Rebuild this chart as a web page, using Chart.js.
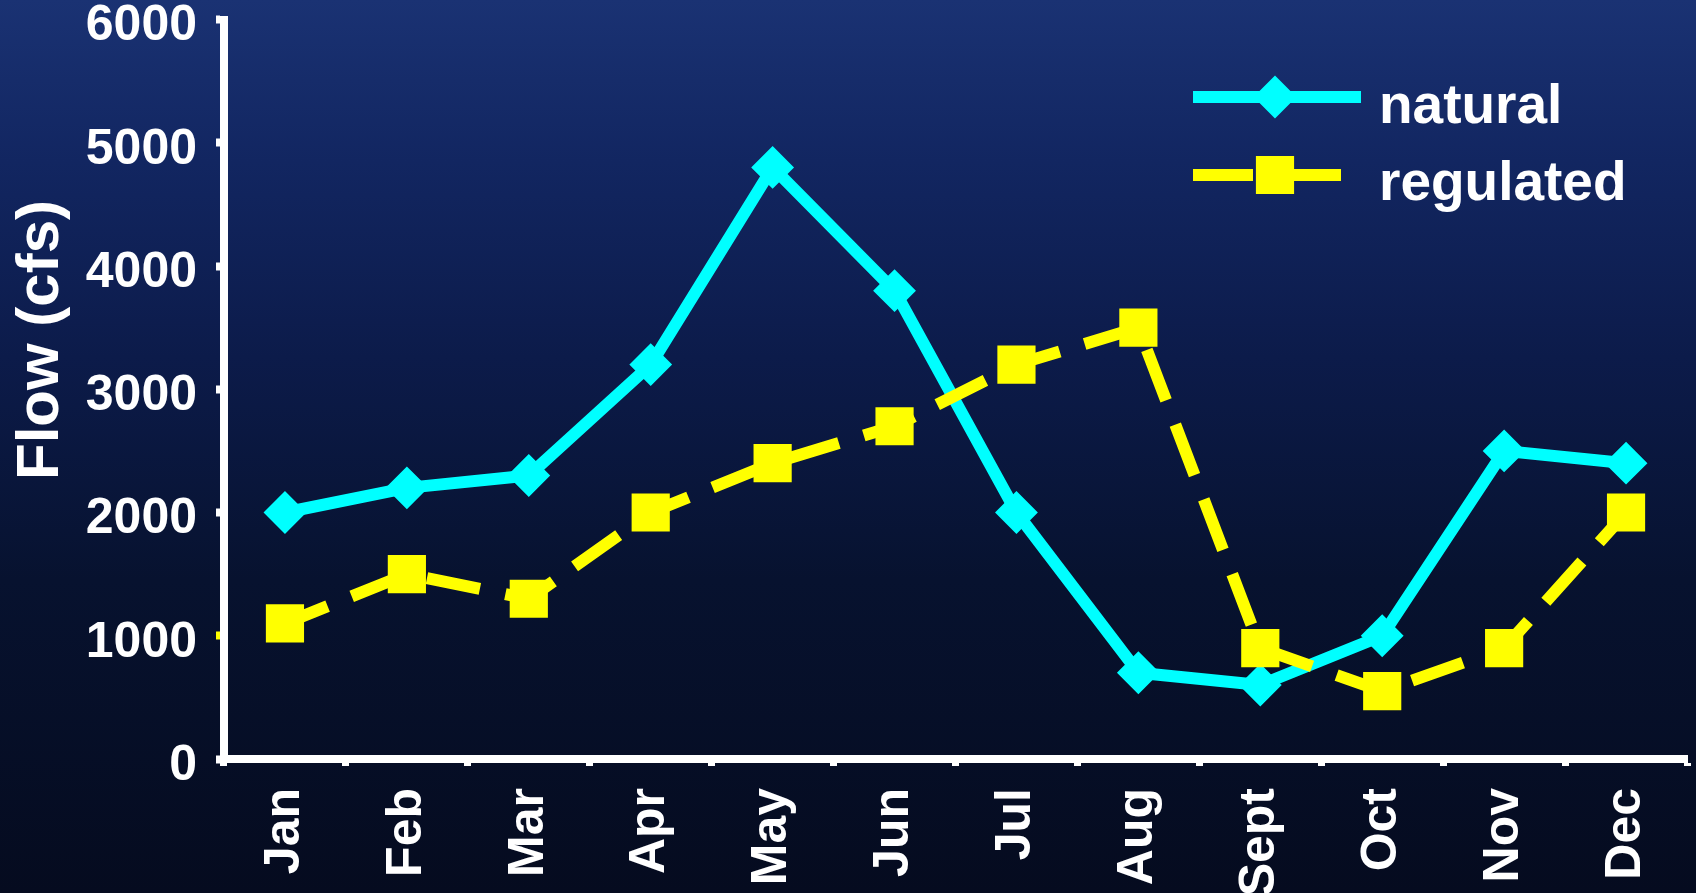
<!DOCTYPE html>
<html>
<head>
<meta charset="utf-8">
<title>Flow (cfs)</title>
<script src="https://cdn.jsdelivr.net/npm/chart.js@4.4.1/dist/chart.umd.min.js"></script>
<style>
    html, body { margin: 0; padding: 0; }
    body {
        width: 1696px;
        height: 893px;
        overflow: hidden;
        background: linear-gradient(180deg, #1a3273 0%, #122661 18%, #0c1b4a 40%, #07122f 65%, #050b1f 100%);
    }
    canvas { display: block; }
</style>
</head>
<body>
<canvas id="flowChart" width="1696" height="893"></canvas>
<script>
// dados
const meses = ['Jan', 'Feb', 'Mar', 'Apr', 'May', 'Jun', 'Jul', 'Aug', 'Sept', 'Oct', 'Nov', 'Dec'];
const vazaoNatural = [2000, 2200, 2300, 3200, 4800, 3800, 2000, 700, 600, 1000, 2500, 2400];
const vazaoRegulada = [1100, 1500, 1300, 2000, 2400, 2700, 3200, 3500, 900, 550, 900, 2000];
const nomesSeries = ['natural', 'regulated'];
const tituloEixoY = 'Flow (cfs)';
const yMin = 0;
const yMax = 6000;
const yPasso = 1000;

const FONTE = "'Liberation Sans', Arial, sans-serif";
const CIANO = '#00FFFF';
const AMARELO = '#FFFF00';
const BRANCO = '#FFFFFF';

// título do eixo Y e legenda desenhados dentro do canvas
const extrasPlugin = {
    id: 'extras',
    afterDraw(chart) {
        const ctx = chart.ctx;

        ctx.save();
        ctx.translate(41, 340);
        ctx.rotate(-Math.PI / 2);
        ctx.fillStyle = BRANCO;
        ctx.font = 'bold 60px ' + FONTE;
        ctx.textAlign = 'center';
        ctx.textBaseline = 'middle';
        ctx.fillText(tituloEixoY, 0, 0);
        ctx.restore();

        const linhas = [
            { y: 97, x2: 1361, textoY: 123 },
            { y: 175, x2: 1343, textoY: 200 }
        ];
        chart.data.datasets.forEach((ds, i) => {
            const l = linhas[i];
            ctx.save();
            ctx.strokeStyle = ds.borderColor;
            ctx.lineWidth = ds.borderWidth;
            ctx.lineCap = 'butt';
            ctx.setLineDash(ds.borderDash ? [60, 28] : []);
            ctx.beginPath();
            ctx.moveTo(1193, l.y);
            ctx.lineTo(l.x2, l.y);
            ctx.stroke();
            ctx.setLineDash([]);
            ctx.fillStyle = ds.pointBackgroundColor;
            ctx.strokeStyle = ds.pointBorderColor;
            ctx.lineWidth = ds.pointBorderWidth;
            Chart.helpers.drawPoint(ctx, {
                pointStyle: ds.pointStyle,
                radius: ds.pointRadius,
                rotation: 0,
                borderWidth: ds.pointBorderWidth
            }, 1275, l.y);
            ctx.fillStyle = BRANCO;
            ctx.font = 'bold 55px ' + FONTE;
            ctx.textAlign = 'left';
            ctx.textBaseline = 'alphabetic';
            ctx.fillText(nomesSeries[i], 1379, l.textoY);
            ctx.restore();
        });
    }
};

const flowCtx = document.getElementById('flowChart').getContext('2d');
const flowChart = new Chart(flowCtx, {
    type: 'line',
    data: {
        labels: meses,
        datasets: [{
            label: nomesSeries[0],
            data: vazaoNatural,
            borderColor: CIANO,
            backgroundColor: CIANO,
            borderWidth: 12,
            borderJoinStyle: 'round',
            pointStyle: 'rectRot',
            pointRadius: 20,
            pointHoverRadius: 20,
            pointBackgroundColor: CIANO,
            pointBorderColor: CIANO,
            pointBorderWidth: 2,
            tension: 0,
            fill: false,
            order: 1
        }, {
            label: nomesSeries[1],
            data: vazaoRegulada,
            borderColor: AMARELO,
            backgroundColor: AMARELO,
            borderWidth: 12,
            borderDash: [54, 26],
            borderDashOffset: 8,
            borderCapStyle: 'butt',
            pointStyle: 'rect',
            pointRadius: 27,
            pointHoverRadius: 27,
            pointBackgroundColor: AMARELO,
            pointBorderColor: AMARELO,
            pointBorderWidth: 0,
            tension: 0,
            fill: false,
            order: 0
        }]
    },
    options: {
        responsive: false,
        animation: false,
        layout: {
            autoPadding: false,
            padding: { top: 19.5, right: 9, left: 0, bottom: 0 }
        },
        plugins: {
            legend: { display: false },
            tooltip: { enabled: false }
        },
        scales: {
            x: {
                offset: true,
                grid: {
                    offset: true,
                    drawOnChartArea: false,
                    drawTicks: true,
                    tickLength: 7,
                    tickWidth: 7,
                    tickColor: BRANCO
                },
                border: { color: BRANCO, width: 8 },
                ticks: {
                    color: BRANCO,
                    autoSkip: false,
                    minRotation: 90,
                    maxRotation: 90,
                    padding: 22,
                    font: { family: FONTE, size: 50, weight: 'bold' }
                },
                afterFit: function(scale) {
                    scale.height = 134;
                    scale.paddingLeft = 0;
                    scale.paddingRight = 0;
                }
            },
            y: {
                min: yMin,
                max: yMax,
                grid: {
                    drawOnChartArea: false,
                    drawTicks: true,
                    tickLength: 8,
                    tickWidth: 8,
                    tickColor: function(c) {
                        return (c.tick && c.tick.value === 1000) ? AMARELO : BRANCO;
                    }
                },
                border: { color: BRANCO, width: 8 },
                ticks: {
                    stepSize: yPasso,
                    color: BRANCO,
                    padding: 19,
                    labelOffset: 7,
                    font: { family: FONTE, size: 50, weight: 'bold' },
                    callback: function(valor) {
                        return String(valor);
                    }
                },
                afterFit: function(scale) {
                    scale.width = 224;
                    scale.paddingTop = 0;
                    scale.paddingBottom = 0;
                }
            }
        }
    },
    plugins: [extrasPlugin]
});
</script>
</body>
</html>
